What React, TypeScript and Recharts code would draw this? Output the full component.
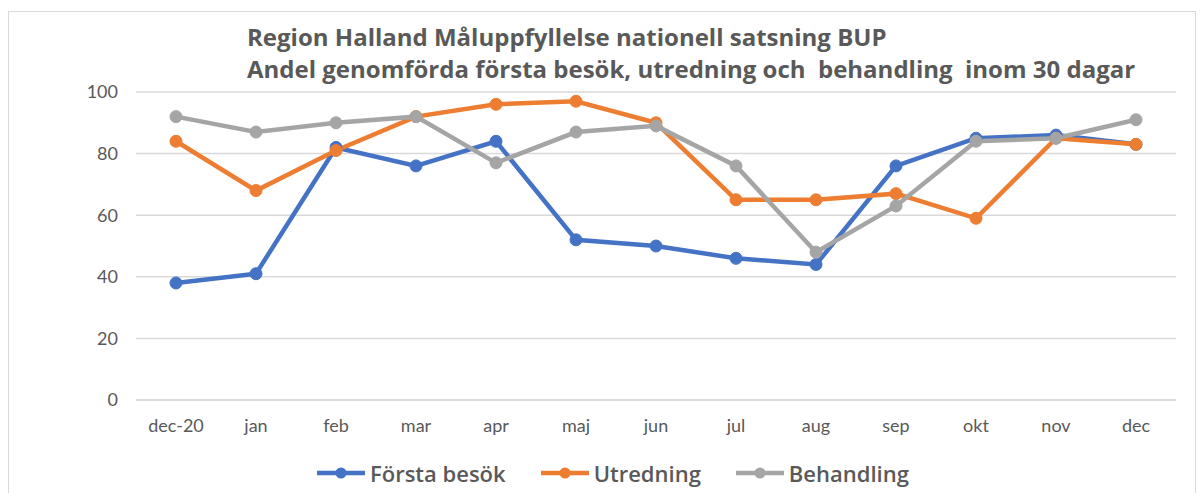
import React from "react";
import { CartesianGrid, Line, LineChart, XAxis, YAxis } from "recharts";

const months = ["dec-20", "jan", "feb", "mar", "apr", "maj", "jun", "jul", "aug", "sep", "okt", "nov", "dec"];
const forstaBesok = [38, 41, 82, 76, 84, 52, 50, 46, 44, 76, 85, 86, 83];
const utredning = [84, 68, 81, 92, 96, 97, 90, 65, 65, 67, 59, 85, 83];
const behandling = [92, 87, 90, 92, 77, 87, 89, 76, 48, 63, 84, 85, 91];
const yTicks = [0, 20, 40, 60, 80, 100];

const series = [
  { key: "forsta", name: "Första besök", color: "#4472C4" },
  { key: "utredning", name: "Utredning", color: "#ED7D31" },
  { key: "behandling", name: "Behandling", color: "#A5A5A5" },
];

const data = months.map((month, i) => ({
  month,
  forsta: forstaBesok[i],
  utredning: utredning[i],
  behandling: behandling[i],
}));

const font = 'Lato, "Open Sans", sans-serif';
const titleFont = '"Open Sans", Lato, sans-serif';
const textGray = "#595959";

export default function App() {
  return (
    <div style={{ position: "absolute", left: 0, top: 0, width: 1202, height: 493, overflow: "hidden", background: "#fff", fontFamily: font }}>
      <div style={{ position: "absolute", left: 8, top: 11, width: 1186, height: 500, border: "1px solid #d9d9d9" }} />
      <div style={{ position: "absolute", left: 247, top: 21, color: textGray, fontFamily: titleFont, fontWeight: 700, fontSize: 24, lineHeight: "32px", whiteSpace: "pre" }}>
        <div>Region Halland Måluppfyllelse nationell satsning BUP</div>
        <div>Andel genomförda första besök, utredning och  behandling  inom 30 dagar</div>
      </div>
      <div style={{ position: "absolute", left: 0, top: 0 }}>
        <LineChart width={1202} height={493} data={data} margin={{ top: 92, right: 26, bottom: 63, left: 76 }}>
          <CartesianGrid vertical={false} stroke="#d9d9d9" strokeWidth={1.5} />
          <XAxis
            dataKey="month"
            axisLine={{ stroke: "#d9d9d9", strokeWidth: 1.5 }}
            tickLine={false}
            tickMargin={13}
            height={30}
            interval={0}
            padding={{ left: 40, right: 40 }}
            tick={{ fill: textGray, fontSize: 18, fontFamily: font }}
          />
          <YAxis
            domain={[0, 100]}
            ticks={yTicks}
            width={60}
            axisLine={false}
            tickLine={false}
            tickMargin={12}
            tick={{ fill: textGray, fontSize: 18, fontFamily: font }}
          />
          {series.map((s) => (
            <Line
              key={s.key}
              dataKey={s.key}
              name={s.name}
              type="linear"
              stroke={s.color}
              strokeWidth={4.5}
              dot={{ r: 6, fill: s.color, stroke: s.color, strokeWidth: 1 }}
              isAnimationActive={false}
            />
          ))}
        </LineChart>
      </div>
      <div style={{ position: "absolute", left: 316, top: 458, display: "flex" }}>
        {series.map((s) => (
          <div key={s.key} style={{ display: "flex", alignItems: "center", color: textGray, fontFamily: titleFont, fontSize: 22, fontWeight: 600, marginRight: 34 }}>
            <svg width={50} height={16} style={{ marginRight: 4 }}>
              <line x1={1} y1={8} x2={49} y2={8} stroke={s.color} strokeWidth={4.5} />
              <circle cx={25} cy={8} r={5.5} fill={s.color} />
            </svg>
            {s.name}
          </div>
        ))}
      </div>
    </div>
  );
}
